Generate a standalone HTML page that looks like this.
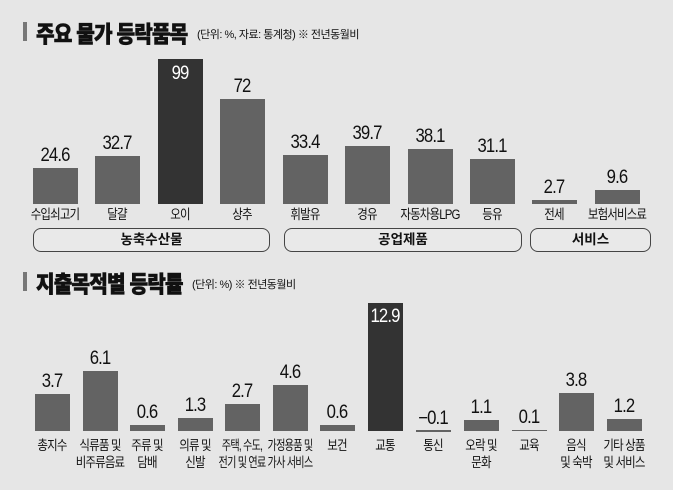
<!DOCTYPE html>
<html><head><meta charset="utf-8"><style>
body{margin:0;width:673px;height:490px;background:#e6e6e6;overflow:hidden;position:relative;font-family:"Liberation Sans","Noto Sans CJK KR",sans-serif;color:#111}
div{position:absolute}
.b{background:#636363}
.d{background:#333}
.v{font-size:19px;text-align:center;width:80px;letter-spacing:-1px;transform:scaleX(0.88)}
.l{font-size:13.5px;text-align:center;width:90px;letter-spacing:-1px;line-height:17px;transform:scaleX(0.85);white-space:nowrap}
.box{border:1px solid #444;border-radius:8px;height:22px;font-size:13.5px;font-weight:bold;text-align:center;line-height:22px;background:#e9e9e9}
.t{font-size:23px;font-weight:900;letter-spacing:-1px;white-space:nowrap;-webkit-text-stroke:0.6px #111;transform:scaleX(0.88);transform-origin:0 0}
.s{font-size:11px;white-space:nowrap;letter-spacing:-0.5px}
.mk{background:#777;width:4px;height:19px}
</style></head><body>
<div class="mk" style="left:23px;top:22px"></div>
<div class="t" style="left:36px;top:15px">주요 물가 등락품목</div>
<div class="s" style="left:197px;top:26px">(단위: %, 자료: 통계청) ※ 전년동월비</div>

<div class="b" style="left:33px;top:168px;width:45px;height:36px"></div>
<div class="b" style="left:95px;top:156px;width:45px;height:48px"></div>
<div class="d" style="left:158px;top:59px;width:45px;height:145px"></div>
<div class="b" style="left:220px;top:99px;width:45px;height:105px"></div>
<div class="b" style="left:283px;top:155px;width:45px;height:49px"></div>
<div class="b" style="left:345px;top:146px;width:45px;height:58px"></div>
<div class="b" style="left:408px;top:149px;width:45px;height:55px"></div>
<div class="b" style="left:470px;top:159px;width:45px;height:45px"></div>
<div class="b" style="left:532px;top:200px;width:45px;height:4px"></div>
<div class="b" style="left:595px;top:190px;width:45px;height:14px"></div>

<div class="v" style="left:15px;top:145px">24.6</div>
<div class="v" style="left:77px;top:133px">32.7</div>
<div class="v" style="left:140px;top:63px;color:#fff">99</div>
<div class="v" style="left:202px;top:76px">72</div>
<div class="v" style="left:265px;top:132px">33.4</div>
<div class="v" style="left:327px;top:123px">39.7</div>
<div class="v" style="left:390px;top:126px">38.1</div>
<div class="v" style="left:452px;top:136px">31.1</div>
<div class="v" style="left:514px;top:177px">2.7</div>
<div class="v" style="left:577px;top:167px">9.6</div>

<div class="l" style="left:10px;top:206px">수입쇠고기</div>
<div class="l" style="left:72px;top:206px">달걀</div>
<div class="l" style="left:135px;top:206px">오이</div>
<div class="l" style="left:197px;top:206px">상추</div>
<div class="l" style="left:260px;top:206px">휘발유</div>
<div class="l" style="left:322px;top:206px">경유</div>
<div class="l" style="left:385px;top:206px">자동차용LPG</div>
<div class="l" style="left:447px;top:206px">등유</div>
<div class="l" style="left:509px;top:206px">전세</div>
<div class="l" style="left:572px;top:206px">보험서비스료</div>

<div class="box" style="left:33px;top:228px;width:235px">농축수산물</div>
<div class="box" style="left:284px;top:228px;width:236px">공업제품</div>
<div class="box" style="left:530px;top:228px;width:119px">서비스</div>

<div class="mk" style="left:23px;top:272px"></div>
<div class="t" style="left:36px;top:265px">지출목적별 등락률</div>
<div class="s" style="left:192px;top:276px">(단위: %) ※ 전년동월비</div>

<div class="b" style="left:35px;top:394px;width:35px;height:37px"></div>
<div class="b" style="left:83px;top:371px;width:35px;height:60px"></div>
<div class="b" style="left:130px;top:425px;width:35px;height:6px"></div>
<div class="b" style="left:178px;top:418px;width:35px;height:13px"></div>
<div class="b" style="left:225px;top:404px;width:35px;height:27px"></div>
<div class="b" style="left:273px;top:385px;width:35px;height:46px"></div>
<div class="b" style="left:320px;top:425px;width:35px;height:6px"></div>
<div class="d" style="left:368px;top:303px;width:35px;height:128px"></div>
<div class="b" style="left:416px;top:430px;width:35px;height:2px"></div>
<div class="b" style="left:464px;top:420px;width:35px;height:11px"></div>
<div class="b" style="left:512px;top:430px;width:35px;height:1px"></div>
<div class="b" style="left:559px;top:393px;width:35px;height:38px"></div>
<div class="b" style="left:607px;top:419px;width:35px;height:12px"></div>

<div class="v" style="left:12px;top:371px">3.7</div>
<div class="v" style="left:60px;top:348px">6.1</div>
<div class="v" style="left:107px;top:402px">0.6</div>
<div class="v" style="left:155px;top:395px">1.3</div>
<div class="v" style="left:202px;top:381px">2.7</div>
<div class="v" style="left:250px;top:362px">4.6</div>
<div class="v" style="left:297px;top:402px">0.6</div>
<div class="v" style="left:345px;top:306px;color:#fff">12.9</div>
<div class="v" style="left:393px;top:408px">−0.1</div>
<div class="v" style="left:441px;top:397px">1.1</div>
<div class="v" style="left:489px;top:407px">0.1</div>
<div class="v" style="left:536px;top:370px">3.8</div>
<div class="v" style="left:584px;top:396px">1.2</div>

<div class="l" style="left:7px;top:437px">총지수</div>
<div class="l" style="left:55px;top:437px">식류품 및<br>비주류음료</div>
<div class="l" style="left:102px;top:437px">주류 및<br>담배</div>
<div class="l" style="left:150px;top:437px">의류 및<br>신발</div>
<div class="l" style="left:197px;top:437px;transform:scaleX(0.75)">주택, 수도,<br>전기 및 연료</div>
<div class="l" style="left:245px;top:437px;transform:scaleX(0.75)">가정용품 및<br>가사 서비스</div>
<div class="l" style="left:292px;top:437px">보건</div>
<div class="l" style="left:340px;top:437px">교통</div>
<div class="l" style="left:388px;top:437px">통신</div>
<div class="l" style="left:436px;top:437px">오락 및<br>문화</div>
<div class="l" style="left:484px;top:437px">교육</div>
<div class="l" style="left:531px;top:437px">음식<br>및 숙박</div>
<div class="l" style="left:579px;top:437px">기타 상품<br>및 서비스</div>
</body></html>
